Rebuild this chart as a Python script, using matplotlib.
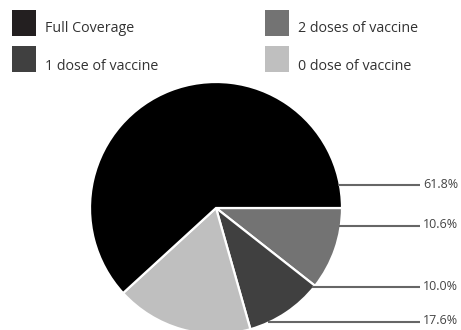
import matplotlib

matplotlib.use("Agg")
import matplotlib.pyplot as plt
from matplotlib.patches import Rectangle

# Vaccination coverage shares (percent), in clockwise order from 3 o'clock
categories = ["2 doses of vaccine", "1 dose of vaccine", "0 dose of vaccine", "Full Coverage"]
shares = [10.6, 10.0, 17.6, 61.8]
colors = ["#737373", "#404040", "#bfbfbf", "#000000"]

# Legend order (two columns, two rows)
legend_labels = ["Full Coverage", "2 doses of vaccine", "1 dose of vaccine", "0 dose of vaccine"]
legend_colors = ["#231f20", "#737373", "#404040", "#bfbfbf"]

# Right-side percentage labels, top to bottom
label_order = ["Full Coverage", "2 doses of vaccine", "1 dose of vaccine", "0 dose of vaccine"]

W, H = 461, 330
fig = plt.figure(figsize=(W / 100, H / 100), dpi=100)
ax = fig.add_axes([0, 0, 1, 1])

cx, cy, r = 216, H - 208, 126
ax.pie(
    shares,
    colors=colors,
    startangle=0,
    counterclock=False,
    center=(cx, cy),
    radius=r,
    wedgeprops=dict(edgecolor="white", linewidth=1.6),
    frame=True,
)
ax.set_xlim(0, W)
ax.set_ylim(0, H)
ax.set_aspect("equal")
ax.axis("off")

font = "Open Sans"

# legend swatches, text sits a little below the swatch centre
lx = [12, 265]
ly = [H - 36, H - 72]
ty = [H - 28, H - 66]
for i, (lab, col) in enumerate(zip(legend_labels, legend_colors)):
    x0 = lx[i % 2]
    ax.add_patch(Rectangle((x0, ly[i // 2]), 24, 26, color=col, lw=0))
    ax.text(x0 + 33, ty[i // 2], lab, fontsize=10.3, family=font, color="#333333",
            va="center", ha="left")

# leader lines + percentage labels on the right
label_y = [185, 226, 287, 322]
for lab, yy in zip(label_order, label_y):
    val = shares[categories.index(lab)]
    dy = yy - 208
    x_edge = cx + (r ** 2 - dy ** 2) ** 0.5
    ax.plot([x_edge - 2, 420], [H - yy, H - yy], color="#666666", lw=1.5,
            solid_capstyle="butt")
    ax.text(423, H - yy + 1, f"{val:.1f}%", fontsize=9, family=font,
            color="#444444", va="center", ha="left")

fig.savefig("out.png", dpi=100)
